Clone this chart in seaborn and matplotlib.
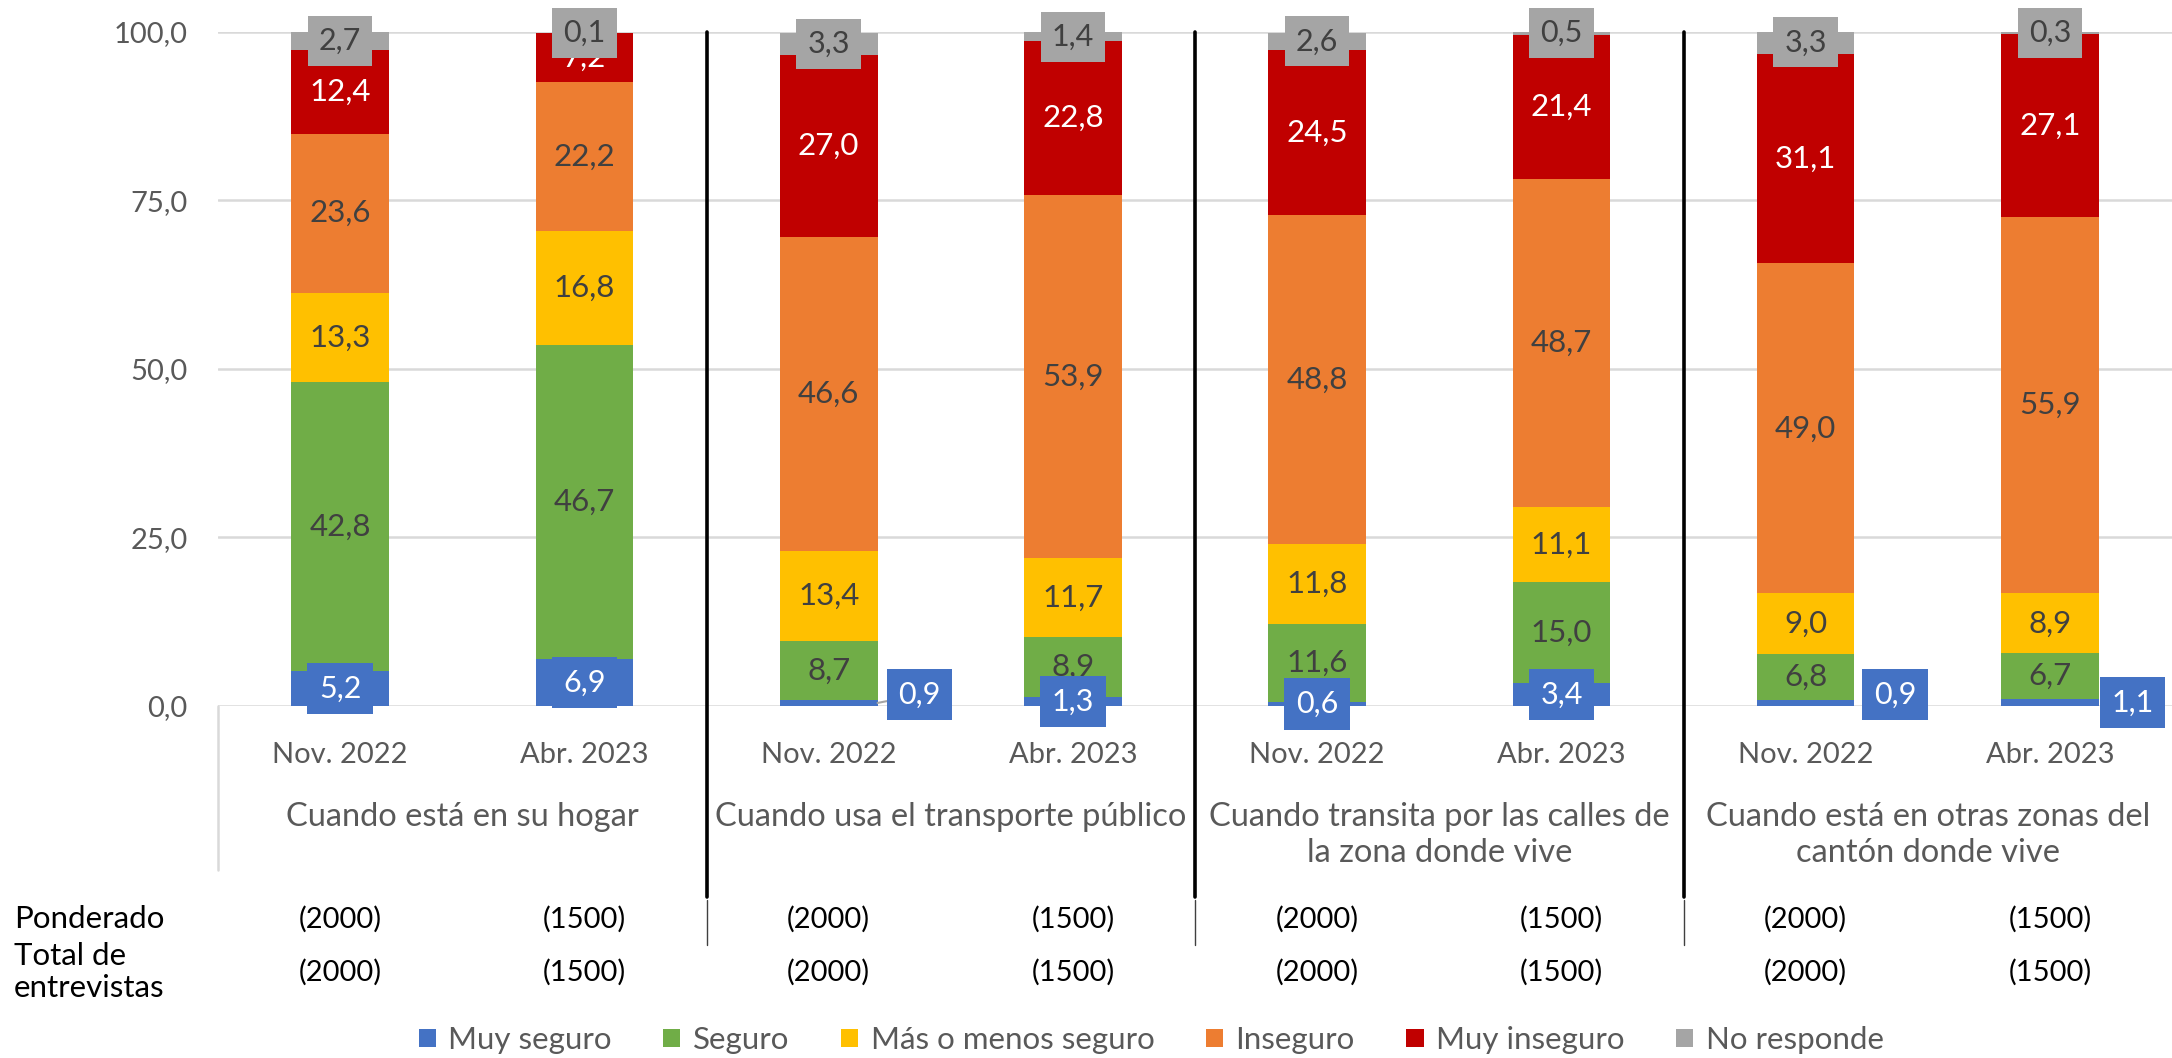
import pandas as pd
import seaborn as sns
import matplotlib.pyplot as plt
import matplotlib.transforms as mtransforms
from matplotlib.patches import Patch
from matplotlib.lines import Line2D

# Categorías y periodos
grupos = [
    "Cuando está en su hogar",
    "Cuando usa el transporte público",
    "Cuando transita por las calles de\nla zona donde vive",
    "Cuando está en otras zonas del\ncantón donde vive",
]
periodos = ["Nov. 2022", "Abr. 2023"]
ponderado = ["(2000)", "(1500)", "(2000)", "(1500)", "(2000)", "(1500)", "(2000)", "(1500)"]
total_entrevistas = ["(2000)", "(1500)", "(2000)", "(1500)", "(2000)", "(1500)", "(2000)", "(1500)"]

# Valores (%) por barra
muy_seguro = [5.2, 6.9, 0.9, 1.3, 0.6, 3.4, 0.9, 1.1]
seguro = [42.8, 46.7, 8.7, 8.9, 11.6, 15.0, 6.8, 6.7]
mas_o_menos = [13.3, 16.8, 13.4, 11.7, 11.8, 11.1, 9.0, 8.9]
inseguro = [23.6, 22.2, 46.6, 53.9, 48.8, 48.7, 49.0, 55.9]
muy_inseguro = [12.4, 7.2, 27.0, 22.8, 24.5, 21.4, 31.1, 27.1]
no_responde = [2.7, 0.1, 3.3, 1.4, 2.6, 0.5, 3.3, 0.3]

series = ["Muy seguro", "Seguro", "Más o menos seguro", "Inseguro", "Muy inseguro", "No responde"]
valores = [muy_seguro, seguro, mas_o_menos, inseguro, muy_inseguro, no_responde]
colores = ["#4472C4", "#70AD47", "#FFC000", "#ED7D31", "#C00000", "#A5A5A5"]
color_texto = ["white", "#404040", "#404040", "#404040", "white", "#404040"]

# desplazamiento (pt, desde el borde derecho de la barra) de las etiquetas azules que salen fuera
offset_azul = [None, None, (15, 6), None, None, None, (14, 6), (9, 0)]

claves = [f"{g}|{p}" for g in grupos for p in periodos]

filas = []
for serie, vals in zip(series, valores):
    for k, v in zip(claves, vals):
        filas.append({"barra": k, "serie": serie, "valor": v})
df = pd.DataFrame(filas)
df["base"] = df.groupby("barra")["valor"].cumsum() - df["valor"]

sns.set_theme(style="white")
plt.rcParams["font.family"] = ["Lato", "DejaVu Sans"]

fig = plt.figure(figsize=(21.72, 10.58), dpi=100)
ax = fig.add_axes([0.1004, 0.3327, 0.8996, 0.6371])

ancho = 0.4
for serie, color in zip(series, colores):
    d = df[df["serie"] == serie].set_index("barra").loc[claves].reset_index()
    sns.barplot(data=d, x="barra", y="valor", order=claves, bottom=d["base"].values,
                color=color, saturation=1, width=ancho, errorbar=None, ax=ax, zorder=2,
                linewidth=0, edgecolor="none")

ax.set_ylim(0, 100)
ax.set_xlim(-0.5, len(claves) - 0.5)
ax.set_yticks([0, 25, 50, 75, 100])
ax.set_yticklabels(["0,0", "25,0", "50,0", "75,0", "100,0"])
ax.set_xticks(range(len(claves)))
ax.set_xticklabels(periodos * len(grupos))
ax.tick_params(axis="both", length=0, labelsize=21, colors="#595959")
ax.tick_params(axis="y", pad=22)
ax.tick_params(axis="x", pad=26)
ax.set_xlabel("")
ax.set_ylabel("")
ax.yaxis.grid(True, color="#D9D9D9", lw=1.8, zorder=0)
ax.set_axisbelow(True)
sns.despine(ax=ax, left=True, bottom=True)

# etiquetas de datos
for j, (serie, vals) in enumerate(zip(series, valores)):
    for i, v in enumerate(vals):
        base = df[(df["barra"] == claves[i]) & (df["serie"] == serie)]["base"].iloc[0]
        yc = base + v / 2
        txt = f"{v:.1f}".replace(".", ",")
        if serie == "Muy seguro":
            caja = dict(boxstyle="square,pad=0.38", fc="#4472C4", ec="none")
            if offset_azul[i] is None:
                ax.text(i, yc, txt, ha="center", va="center", fontsize=22, color="white",
                        zorder=6, clip_on=False, bbox=caja)
            else:
                dx, dy = offset_azul[i]
                kw = {}
                if i == 2:
                    kw["arrowprops"] = dict(arrowstyle="-", color="#A5A5A5", lw=1.5,
                                            shrinkA=0, shrinkB=0)
                ax.annotate(txt, xy=(i + ancho / 2, yc), xytext=(dx, dy),
                            textcoords="offset points", ha="left", va="center",
                            fontsize=22, color="white", zorder=6, annotation_clip=False,
                            bbox=caja, **kw)
        elif serie == "No responde":
            ax.text(i, yc, txt, ha="center", va="center", fontsize=22, color="#404040",
                    zorder=7, clip_on=False,
                    bbox=dict(boxstyle="square,pad=0.36", fc="#A5A5A5", ec="none"))
        else:
            ax.text(i, yc, txt, ha="center", va="center", fontsize=22.5,
                    color=color_texto[j], zorder=5)

trans = mtransforms.blended_transform_factory(ax.transData, ax.transAxes)

# etiquetas de grupo
for g, nombre in enumerate(grupos):
    ax.text(2 * g + 0.5, -0.143, nombre, transform=trans, ha="center", va="top",
            fontsize=23.5, color="#595959", linespacing=1.25)

# separadores
for xs in [1.5, 3.5, 5.5]:
    ax.add_line(Line2D([xs, xs], [1, -0.283], transform=trans, color="black",
                       lw=2.6, clip_on=False, zorder=4))
    ax.add_line(Line2D([xs, xs], [-0.288, -0.355], transform=trans, color="#404040",
                       lw=1.0, clip_on=False, zorder=4))
ax.add_line(Line2D([-0.5, -0.5], [0, -0.243], transform=trans, color="#D9D9D9",
                   lw=1.8, clip_on=False))

# filas de tabla
fig.text(14 / 2172, 1 - 919 / 1058, "Ponderado", ha="left", va="center", fontsize=22.5, color="black")
fig.text(14 / 2172, 1 - 972 / 1058, "Total de\nentrevistas", ha="left", va="center",
         fontsize=22.5, color="black", linespacing=1.15)
for i in range(len(claves)):
    ax.text(i, -0.316, ponderado[i], transform=trans, ha="center", va="center",
            fontsize=21, color="black")
    ax.text(i, -0.395, total_entrevistas[i], transform=trans, ha="center", va="center",
            fontsize=21, color="black")

handles = [Patch(facecolor=c, edgecolor="none", label=s) for s, c in zip(series, colores)]
fig.legend(handles=handles, loc="center", bbox_to_anchor=(0.530, 0.017), ncol=6,
           frameon=False, fontsize=22.5, handlelength=0.55, handleheight=0.55,
           handletextpad=0.4, columnspacing=1.65, labelcolor="#595959")

fig.savefig("out.png", dpi=100)
